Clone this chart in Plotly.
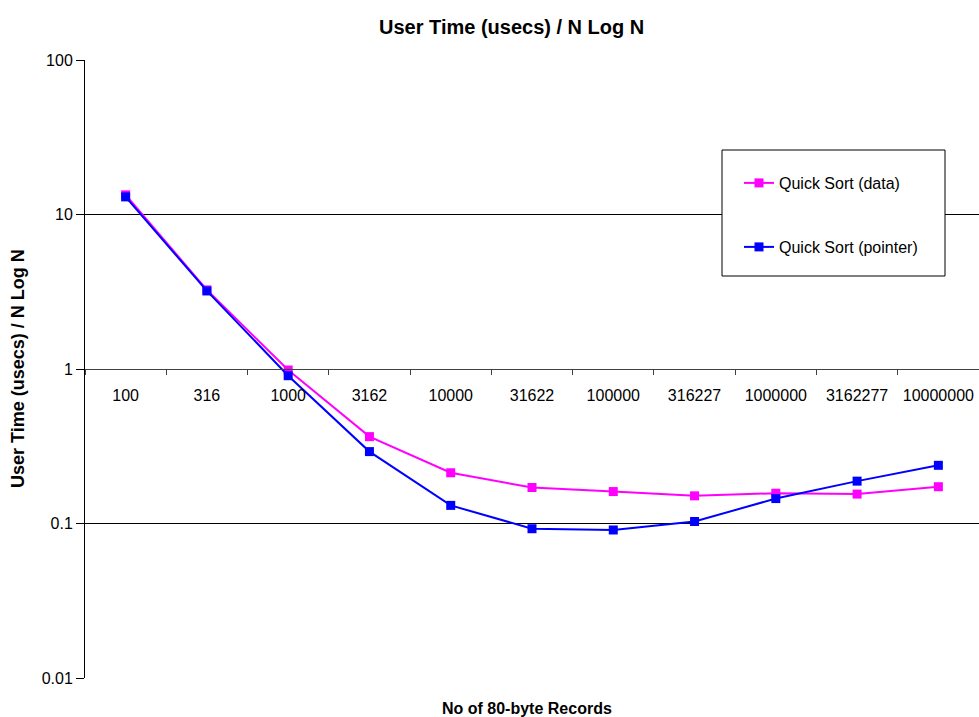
import plotly.graph_objects as go

categories = ["100", "316", "1000", "3162", "10000", "31622", "100000",
              "316227", "1000000", "3162277", "10000000"]
quick_data = [13.4, 3.25, 0.985, 0.365, 0.213, 0.171, 0.161, 0.151, 0.157, 0.155, 0.173]
quick_pointer = [13.0, 3.2, 0.905, 0.292, 0.131, 0.0925, 0.0908, 0.103, 0.145, 0.188, 0.238]
y_tickvals = [0.01, 0.1, 1, 10, 100]
y_ticktext = ["0.01", "0.1", "1", "10", "100"]

FONT = "Liberation Sans, Arial, sans-serif"

fig = go.Figure()
fig.add_trace(go.Scatter(
    x=categories, y=quick_data, name="Quick Sort (data)", mode="lines+markers",
    line=dict(color="#FF00FF", width=2),
    marker=dict(symbol="square", size=9, color="#FF00FF"),
    legend="legend"))
fig.add_trace(go.Scatter(
    x=categories, y=quick_pointer, name="Quick Sort (pointer)", mode="lines+markers",
    line=dict(color="#0000FF", width=2),
    marker=dict(symbol="square", size=9, color="#0000FF"),
    legend="legend2"))

W, H = 979, 717
L, R, T, B = 85, 0, 60, 39
pw, ph = W - L - R, H - T - B

def px_x(x):
    return (x - L) / pw

def px_y(y):
    return (H - B - y) / ph

fig.update_layout(
    width=W, height=H,
    margin=dict(l=L, r=R, t=T, b=B),
    paper_bgcolor="white", plot_bgcolor="white",
    font=dict(family=FONT, size=16, color="black"),
    showlegend=True,
    xaxis=dict(
        type="category", range=[-0.5, 10.5],
        anchor="free", position=0.5,
        showline=True, linecolor="#404040", linewidth=1,
        ticks="outside", ticklen=5, tickcolor="#404040", tickson="boundaries",
        ticklabelstandoff=12,
        showgrid=False, zeroline=False,
        tickfont=dict(family=FONT, size=16, color="black"),
    ),
    yaxis=dict(
        type="log", range=[-2, 2],
        tickvals=y_tickvals, ticktext=y_ticktext,
        showline=True, linecolor="black", linewidth=1,
        ticks="outside", ticklen=8, tickcolor="black",
        showgrid=True, gridcolor="black", gridwidth=1,
        zeroline=False,
        tickfont=dict(family=FONT, size=16, color="black"),
    ),
    legend=dict(
        x=px_x(739), y=px_y(183), xanchor="left", yanchor="middle",
        bgcolor="rgba(0,0,0,0)", borderwidth=0,
        font=dict(family=FONT, size=16, color="black"),
    ),
    legend2=dict(
        x=px_x(739), y=px_y(247), xanchor="left", yanchor="middle",
        bgcolor="rgba(0,0,0,0)", borderwidth=0,
        font=dict(family=FONT, size=16, color="black"),
    ),
    shapes=[dict(
        type="rect", xref="paper", yref="paper",
        x0=px_x(722), x1=px_x(945), y0=px_y(276), y1=px_y(150),
        line=dict(color="black", width=1), fillcolor="white", layer="above",
    )],
    annotations=[
        dict(text="<b>User Time (usecs) / N Log N</b>", xref="paper", yref="paper",
             x=px_x(511), y=px_y(27), xanchor="center", yanchor="middle",
             showarrow=False, font=dict(family=FONT, size=20, color="black")),
        dict(text="<b>No of 80-byte Records</b>", xref="paper", yref="paper",
             x=px_x(527), y=px_y(708), xanchor="center", yanchor="middle",
             showarrow=False, font=dict(family=FONT, size=16, color="black")),
        dict(text="<b>User Time (usecs) / N Log N</b>", xref="paper", yref="paper",
             x=px_x(18), y=px_y(369), xanchor="center", yanchor="middle",
             textangle=-90, showarrow=False,
             font=dict(family=FONT, size=18, color="black")),
    ],
)

fig.write_html("out.html", config={"displayModeBar": False})

# remove the default page margin so the figure sits at the window's top-left corner
with open("out.html", "r", encoding="utf-8") as f:
    html = f.read()
html = html.replace("<head>", "<head><style>html,body{margin:0;padding:0;overflow:hidden;}</style>", 1)
with open("out.html", "w", encoding="utf-8") as f:
    f.write(html)
